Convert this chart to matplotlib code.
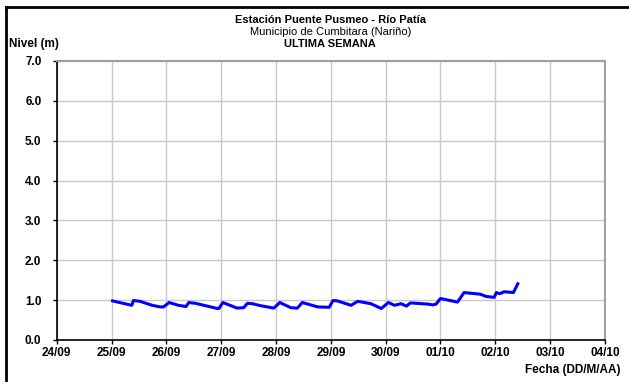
"""
Nivel del rio - Estacion Puente Pusmeo, ultima semana
"""

import matplotlib
matplotlib.use('agg')

import matplotlib.pyplot as plt
from matplotlib.lines import Line2D

# ------------- data ---------------------------------
# time in days counted from 24/09 00:00
dias = [1.02, 1.37, 1.40, 1.52, 1.74, 1.89, 1.95, 2.05, 2.22, 2.36, 2.41,
        2.53, 2.93, 2.96, 3.03, 3.29, 3.41, 3.48, 3.57, 3.72, 3.96, 4.07,
        4.27, 4.39, 4.48, 4.76, 4.97, 5.04, 5.12, 5.37, 5.49, 5.73, 5.92,
        6.05, 6.16, 6.28, 6.38, 6.45, 6.77, 6.86, 6.92, 7.00, 7.14, 7.31,
        7.43, 7.57, 7.72, 7.84, 7.98, 8.02, 8.08, 8.16, 8.33, 8.41]
nivel = [0.98, 0.87, 0.99, 0.97, 0.87, 0.83, 0.83, 0.94, 0.87, 0.84, 0.94,
         0.92, 0.79, 0.79, 0.94, 0.80, 0.81, 0.92, 0.91, 0.86, 0.80, 0.94,
         0.81, 0.80, 0.94, 0.83, 0.82, 0.99, 0.98, 0.87, 0.97, 0.91, 0.79,
         0.94, 0.87, 0.91, 0.85, 0.93, 0.90, 0.88, 0.90, 1.04, 1.00, 0.95,
         1.19, 1.17, 1.15, 1.09, 1.07, 1.19, 1.16, 1.21, 1.19, 1.41]

fechas = ['24/09', '25/09', '26/09', '27/09', '28/09', '29/09', '30/09',
          '01/10', '02/10', '03/10', '04/10']
yticks = [0, 1, 2, 3, 4, 5, 6, 7]

plt.rcParams['font.family'] = ['Liberation Sans', 'DejaVu Sans']

# ----------- figure setup --------------------------------
fig = plt.figure(figsize=(6.29, 3.82), dpi=100)
ax = fig.add_axes([0.0901, 0.110, 0.8717, 0.7304])

ax.plot(dias, nivel, color='#0000ff', linewidth=2.2, solid_joinstyle='round')

ax.set_xlim(0, 10)
ax.set_ylim(0, 7)
ax.set_xticks(range(len(fechas)))
ax.set_xticklabels(fechas, fontsize=8.5, fontweight='bold')
ax.set_yticks(yticks)
ax.set_yticklabels(['%.1f' % v for v in yticks], fontsize=8.5,
                   fontweight='bold')
ax.tick_params(direction='out', length=3, width=1)
ax.tick_params(axis='x', pad=2)
ax.tick_params(axis='y', pad=8)

ax.grid(True, color='#c8c8c8', linewidth=1)
ax.set_axisbelow(True)
for side in ['top', 'right']:
    ax.spines[side].set_color('#a0a0a0')
    ax.spines[side].set_linewidth(1.5)
for side in ['left', 'bottom']:
    ax.spines[side].set_color('black')
    ax.spines[side].set_linewidth(1.2)

# ----------- texts --------------------------------
fig.text(0.525, 0.948, 'Estación Puente Pusmeo - Río Patía', ha='center',
         va='center', fontsize=8, fontweight='bold')
fig.text(0.525, 0.917, 'Municipio de Cumbitara (Nariño)', ha='center',
         va='center', fontsize=8)
fig.text(0.525, 0.886, 'ULTIMA SEMANA', ha='center', va='center',
         fontsize=8, fontweight='bold')
fig.text(0.014, 0.886, 'Nivel (m)', ha='left', va='center', fontsize=8.5,
         fontweight='bold')
fig.text(0.986, 0.032, 'Fecha (DD/M/AA)', ha='right', va='center',
         fontsize=8.5, fontweight='bold')

# outer frame (only top and left show)
fig.add_artist(Line2D([6.5 / 629, 1], [1 - 6.5 / 382, 1 - 6.5 / 382],
                      transform=fig.transFigure, color='black', linewidth=2))
fig.add_artist(Line2D([6.5 / 629, 6.5 / 629], [0, 1 - 6.5 / 382],
                      transform=fig.transFigure, color='black', linewidth=2))

plt.savefig('out.png', dpi=100)
